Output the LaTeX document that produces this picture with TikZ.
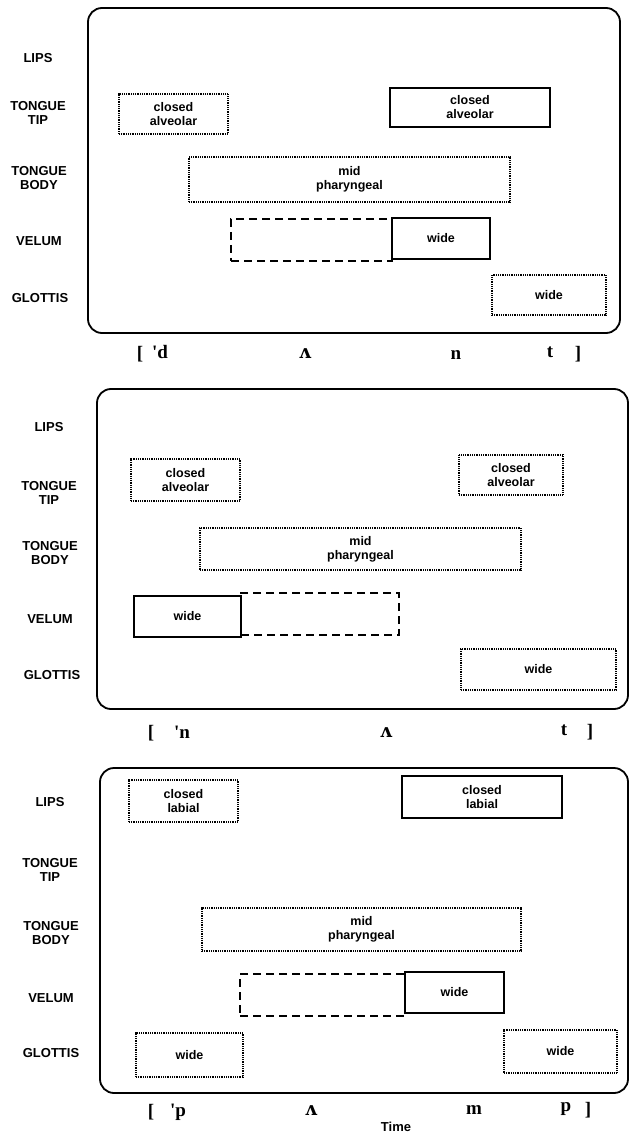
\documentclass[tikz,border=0pt]{standalone}
\usepackage{fontspec}
\setmainfont{Liberation Sans}
\newfontfamily\ipafont{Liberation Serif}
\newfontfamily\ipafontb{DejaVu Serif}
\newcommand\gb[7]{\node[#1, minimum width={(#5-#3)*1pt}, minimum height={(#6-#4)*1pt}] (#2) at ({(#3+#5)/2},{(#4+#6)/2}) {#7};}
\begin{document}
\begin{tikzpicture}[x=1pt,y=-1pt,
  panel/.style={draw, line width=1.8pt, rounded corners=14pt},
  lab/.style={font=\fontsize{13}{14}\selectfont\bfseries, align=center, inner sep=0pt},
  gest/.style={font=\fontsize{12.5}{14}\selectfont\bfseries, align=center, inner sep=0pt, line width=1.1pt},
  dotbox/.style={gest, draw, dash pattern=on 1pt off 0.8pt},
  solidbox/.style={gest, draw},
  dashbox/.style={gest, draw, line width=1.3pt, dash pattern=on 8pt off 5pt},
  seg/.style={font=\fontsize{19}{21}\selectfont\ipafont\bfseries, inner sep=0pt},
  segv/.style={font=\fontsize{19}{21}\selectfont\ipafontb\bfseries, inner sep=0pt}]
\useasboundingbox (0,0) rectangle (630,1139);

% ---------------- Panel 1 ----------------
\node[panel, minimum width=532pt, minimum height=325pt] (p1) at (354,170.5) {};
\node[lab] (l1a) at (38,58) {LIPS};
\node[lab] (l1b) at (38,113) {TONGUE\\TIP};
\node[lab] (l1c) at (39,178) {TONGUE\\BODY};
\node[lab] (l1d) at (39,241) {VELUM};
\node[lab] (l1e) at (40,298) {GLOTTIS};
\gb{dotbox}{a1}{119}{94}{228}{134}{closed\\alveolar}
\gb{solidbox}{a2}{390}{88}{550}{127}{closed\\alveolar}
\gb{dotbox}{a3}{189}{157}{510}{202}{mid\\pharyngeal}
\gb{dashbox}{a4}{231}{219}{392}{261}{}
\gb{solidbox}{a5}{392}{218}{490}{259}{wide}
\gb{dotbox}{a6}{492}{275}{606}{315}{wide}
\node[seg] (s1a) at (140,354) {[};
\node[seg] (s1b) at (160,352) {'d};
\node[segv] (s1c) at (305,354) {ʌ};
\node[seg] (s1d) at (456,355) {n};
\node[seg] (s1e) at (550,352) {t};
\node[seg] (s1f) at (578,354) {]};

% ---------------- Panel 2 ----------------
\node[panel, minimum width=531pt, minimum height=320pt] (p2) at (362.5,549) {};
\node[lab] (l2a) at (49,427) {LIPS};
\node[lab] (l2b) at (49,493) {TONGUE\\TIP};
\node[lab] (l2c) at (50,553) {TONGUE\\BODY};
\node[lab] (l2d) at (50,619) {VELUM};
\node[lab] (l2e) at (52,675) {GLOTTIS};
\gb{dotbox}{b1}{131}{459}{240}{501}{closed\\alveolar}
\gb{dotbox}{b2}{459}{455}{563}{495}{closed\\alveolar}
\gb{dotbox}{b3}{200}{528}{521}{570}{mid\\pharyngeal}
\gb{dashbox}{b4}{241}{593}{399}{635}{}
\gb{solidbox}{b5}{134}{596}{241}{637}{wide}
\gb{dotbox}{b6}{461}{649}{616}{690}{wide}
\node[seg] (s2a) at (151,733) {[};
\node[seg] (s2b) at (182,732) {'n};
\node[segv] (s2c) at (386,733) {ʌ};
\node[seg] (s2d) at (564,730) {t};
\node[seg] (s2e) at (590,732) {]};

% ---------------- Panel 3 ----------------
\node[panel, minimum width=528pt, minimum height=325pt] (p3) at (364,930.5) {};
\node[lab] (l3a) at (50,802) {LIPS};
\node[lab] (l3b) at (50,870) {TONGUE\\TIP};
\node[lab] (l3c) at (51,933) {TONGUE\\BODY};
\node[lab] (l3d) at (51,998) {VELUM};
\node[lab] (l3e) at (51,1053) {GLOTTIS};
\gb{dotbox}{c1}{129}{780}{238}{822}{closed\\labial}
\gb{solidbox}{c2}{402}{776}{562}{818}{closed\\labial}
\gb{dotbox}{c3}{202}{908}{521}{951}{mid\\pharyngeal}
\gb{dashbox}{c4}{240}{974}{405}{1016}{}
\gb{solidbox}{c5}{405}{972}{504}{1013}{wide}
\gb{dotbox}{c6}{136}{1033}{243}{1077}{wide}
\gb{dotbox}{c7}{504}{1030}{617}{1073}{wide}
\node[seg] (s3a) at (151,1112) {[};
\node[seg] (s3b) at (178,1112) {'p};
\node[segv] (s3c) at (311,1111) {ʌ};
\node[seg] (s3d) at (474,1110) {m};
\node[seg] (s3e) at (566,1109) {p};
\node[seg] (s3f) at (588,1110) {]};
\node[lab] (time) at (396,1127) {Time};
\end{tikzpicture}
\end{document}
